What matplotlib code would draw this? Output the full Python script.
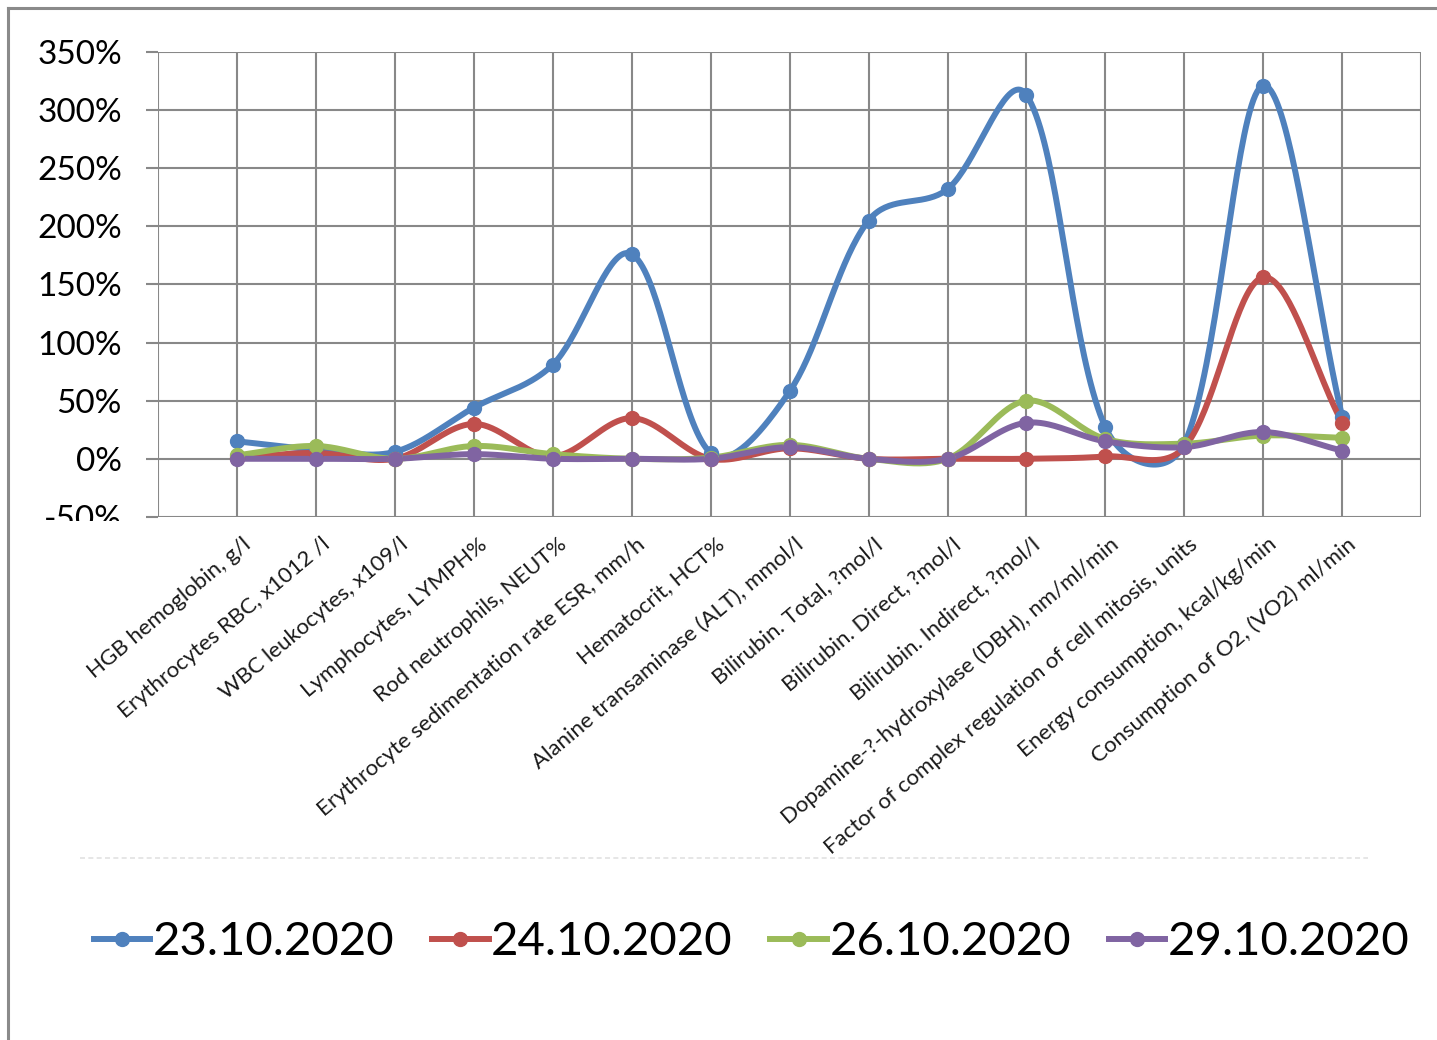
import matplotlib.pyplot as plt
import numpy as np
from matplotlib.lines import Line2D
from matplotlib.transforms import Bbox, TransformedBbox, offset_copy

plt.rcParams["font.family"] = ["Lato", "DejaVu Sans"]

categories = [
    "HGB hemoglobin, g/l",
    "Erythrocytes RBC, x1012 /l",
    "WBC leukocytes, x109/l",
    "Lymphocytes, LYMPH%",
    "Rod neutrophils, NEUT%",
    "Erythrocyte sedimentation rate ESR, mm/h",
    "Hematocrit, HCT%",
    "Alanine transaminase (ALT), mmol/l",
    "Bilirubin. Total, ?mol/l",
    "Bilirubin. Direct, ?mol/l",
    "Bilirubin. Indirect, ?mol/l",
    "Dopamine-?-hydroxylase (DBH), nm/ml/min",
    "Factor of complex regulation of cell mitosis, units",
    "Energy consumption, kcal/kg/min",
    "Consumption of O2, (VO2) ml/min",
]

# percent change per indicator
d_23_10 = [15, 8, 6, 44, 81, 176, 5, 58, 205, 232, 313, 27, 13, 321, 36]
d_24_10 = [1, 5, 0, 30, 2, 35, 0, 9, 0, 0, 0, 2, 10, 156, 31]
d_26_10 = [3, 11, 0, 11, 4, 0, 1, 12, 0, 0, 50, 17, 13, 20, 18]
d_29_10 = [0, 0, 0, 4, 0, 0, 0, 10, 0, 0, 31, 15, 10, 23, 7]

series_names = ["23.10.2020", "24.10.2020", "26.10.2020", "29.10.2020"]
colors = ["#4F81BD", "#C0504D", "#9BBB59", "#8064A2"]
grid_col = "#888888"

# pixel size of one category step and of 1 % on the y axis
SX, SY = 79.0, 1.1625


def smooth(x, y, n=40):
    # bezier through the points, tangents weighted by neighbouring chord lengths
    p = np.column_stack([np.asarray(x, float) * SX, np.asarray(y, float) * SY])
    p = np.vstack([p[:1], p, p[-1:]])
    d = np.sqrt(np.hypot(*np.diff(p, axis=0).T))
    t = np.linspace(0, 1, n)[:, None]
    segs = []
    for i in range(1, len(p) - 2):
        p0, p3 = p[i], p[i + 1]
        a = d[i] / (d[i - 1] + d[i]) if d[i - 1] + d[i] > 0 else 0.5
        b = d[i] / (d[i] + d[i + 1]) if d[i] + d[i + 1] > 0 else 0.5
        p1 = p0 + (p[i + 1] - p[i - 1]) * a / 3
        p2 = p3 - (p[i + 2] - p[i]) * b / 3
        segs.append((1 - t) ** 3 * p0 + 3 * (1 - t) ** 2 * t * p1 + 3 * (1 - t) * t ** 2 * p2 + t ** 3 * p3)
    s = np.vstack(segs)
    return s[:, 0] / SX, s[:, 1] / SY


fig = plt.figure(figsize=(14.37, 10.4), dpi=100)
ax = fig.add_axes([0.110, 0.503, 0.879, 0.447])

x = np.arange(len(categories))
for vals, col in zip([d_23_10, d_24_10, d_26_10, d_29_10], colors):
    sx, sy = smooth(x, vals)
    ax.plot(sx, sy, color=col, lw=4.3, solid_capstyle="round", zorder=3)
    ax.plot(x, vals, "o", color=col, ms=10, zorder=4)

ax.set_xlim(-1, len(categories))
ax.set_ylim(-50, 350)
ax.set_xticks(np.arange(-1, len(categories) + 1))
ax.set_xticklabels([])
ax.set_yticks(np.arange(-50, 351, 50))
ax.set_yticklabels([f"{v}%" for v in range(-50, 351, 50)], fontsize=24)
ax.grid(True, color=grid_col, lw=1.5)
ax.tick_params(axis="x", length=0)
ax.tick_params(axis="y", length=9, width=1.5, color=grid_col, pad=17)
for s in ax.spines.values():
    s.set_visible(False)

# bottom of the -50% label is hidden below the plot edge
clip = TransformedBbox(Bbox([[0, 0.499], [1, 1]]), fig.transFigure)
for lbl in ax.get_yticklabels():
    lbl.set_clip_box(clip)
    lbl.set_clip_on(True)

# rotated category labels
base = offset_copy(ax.get_xaxis_transform(), fig=fig, x=11, y=-25, units="dots")
for i, name in enumerate(categories):
    ax.text(i, 0, name, transform=base, rotation=40, ha="right", va="center",
            rotation_mode="anchor", fontsize=16, color="#1a1a1a")

# chart frame and separator
fig.add_artist(Line2D([0.0056, 1.0], [0.992, 0.992], color="#8a8a8a", lw=2.2))
fig.add_artist(Line2D([0.0056, 0.0056], [0.0, 0.992], color="#8a8a8a", lw=2.2))
fig.add_artist(Line2D([0.056, 0.952], [0.175, 0.175], color="#e2e2e2", lw=1.2, ls=(0, (3, 2))))

handles = [Line2D([], [], color=c, lw=4.3, marker="o", ms=10) for c in colors]
fig.legend(handles, series_names, loc="center", bbox_to_anchor=(0.523, 0.094),
           ncol=4, frameon=False, fontsize=34, handlelength=1.2,
           handletextpad=0.05, columnspacing=0.8)

fig.savefig("out.png", dpi=100)
